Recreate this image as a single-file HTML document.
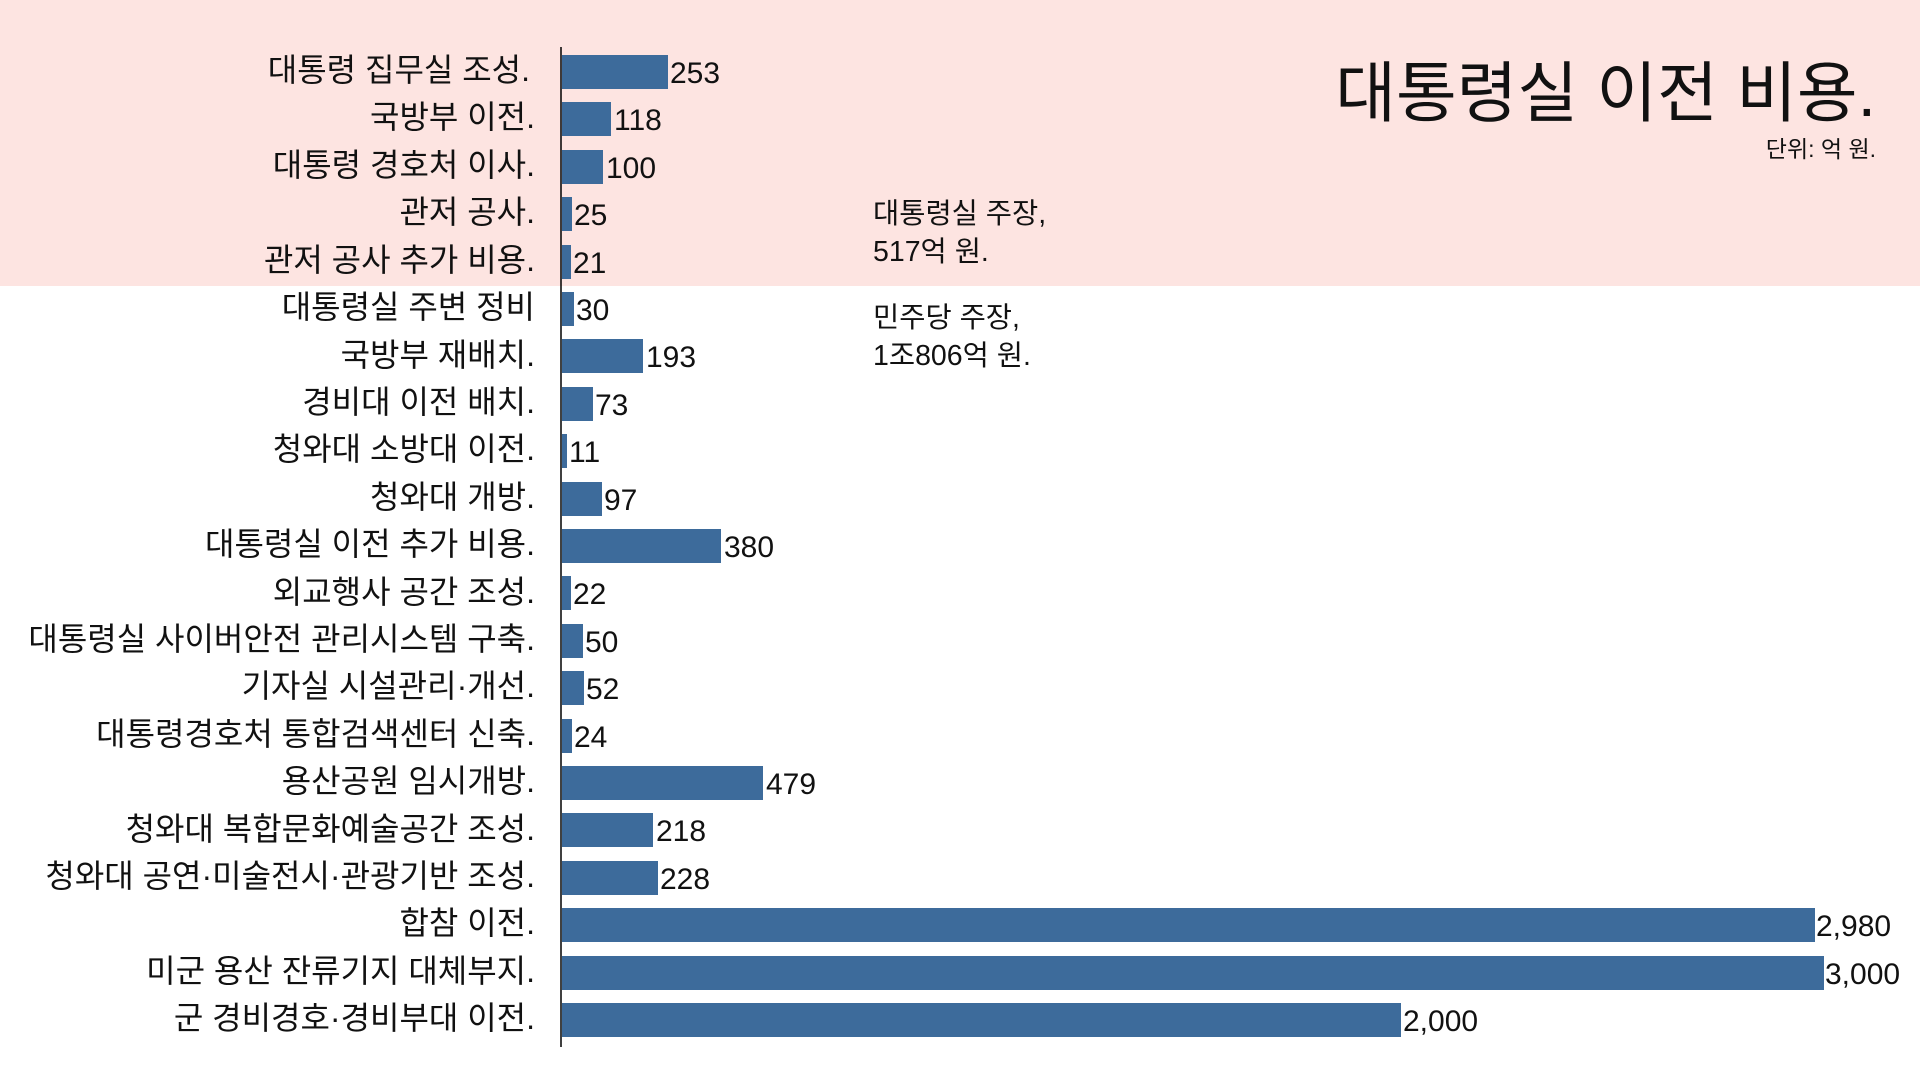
<!DOCTYPE html>
<html><head><meta charset="utf-8"><style>
html,body{margin:0;padding:0;background:#fff;}
svg{display:block}
text{font-family:"Liberation Sans","Noto Sans CJK KR",sans-serif;fill:#111}
</style></head><body>
<svg width="1920" height="1080" viewBox="0 0 1920 1080" xmlns="http://www.w3.org/2000/svg">
<rect x="0" y="0" width="1920" height="286" fill="#fde4e1"/>
<line x1="561" y1="47" x2="561" y2="1047" stroke="#000" stroke-width="1.5"/>
<text x="1876" y="116" font-size="66" text-anchor="end">대통령실 이전 비용.</text>
<text x="1876" y="157" font-size="23" text-anchor="end">단위: 억 원.</text>
<text x="873" y="223" font-size="28.5">대통령실 주장,</text>
<text x="873" y="261" font-size="28.5">517억 원.</text>
<text x="873" y="327" font-size="28.5">민주당 주장,</text>
<text x="873" y="365" font-size="28.5">1조806억 원.</text>
<g font-size="32" text-anchor="end">
<text x="530" y="81">대통령 집무실 조성.</text>
<text x="535" y="128">국방부 이전.</text>
<text x="535" y="176">대통령 경호처 이사.</text>
<text x="535" y="223">관저 공사.</text>
<text x="535" y="271">관저 공사 추가 비용.</text>
<text x="535" y="318">대통령실 주변 정비</text>
<text x="535" y="366">국방부 재배치.</text>
<text x="535" y="413">경비대 이전 배치.</text>
<text x="535" y="460">청와대 소방대 이전.</text>
<text x="535" y="508">청와대 개방.</text>
<text x="535" y="555">대통령실 이전 추가 비용.</text>
<text x="535" y="603">외교행사 공간 조성.</text>
<text x="535" y="650">대통령실 사이버안전 관리시스템 구축.</text>
<text x="535" y="697">기자실 시설관리·개선.</text>
<text x="535" y="745">대통령경호처 통합검색센터 신축.</text>
<text x="535" y="792">용산공원 임시개방.</text>
<text x="535" y="840">청와대 복합문화예술공간 조성.</text>
<text x="535" y="887">청와대 공연·미술전시·관광기반 조성.</text>
<text x="535" y="934">합참 이전.</text>
<text x="535" y="982">미군 용산 잔류기지 대체부지.</text>
<text x="535" y="1029">군 경비경호·경비부대 이전.</text>
</g>
<g fill="#3d6b9b">
<rect x="562" y="55" width="106" height="34"/>
<rect x="562" y="102" width="49" height="34"/>
<rect x="562" y="150" width="41" height="34"/>
<rect x="562" y="197" width="10" height="34"/>
<rect x="562" y="245" width="9" height="34"/>
<rect x="562" y="292" width="12" height="34"/>
<rect x="562" y="339" width="81" height="34"/>
<rect x="562" y="387" width="31" height="34"/>
<rect x="562" y="434" width="5" height="34"/>
<rect x="562" y="482" width="40" height="34"/>
<rect x="562" y="529" width="159" height="34"/>
<rect x="562" y="576" width="9" height="34"/>
<rect x="562" y="624" width="21" height="34"/>
<rect x="562" y="671" width="22" height="34"/>
<rect x="562" y="719" width="10" height="34"/>
<rect x="562" y="766" width="201" height="34"/>
<rect x="562" y="813" width="91" height="34"/>
<rect x="562" y="861" width="96" height="34"/>
<rect x="562" y="908" width="1253" height="34"/>
<rect x="562" y="956" width="1262" height="34"/>
<rect x="562" y="1003" width="839" height="34"/>
</g>
<g font-size="30">
<text x="670" y="83">253</text>
<text x="614" y="130">118</text>
<text x="606" y="178">100</text>
<text x="574" y="225">25</text>
<text x="573" y="273">21</text>
<text x="576" y="320">30</text>
<text x="646" y="367">193</text>
<text x="595" y="415">73</text>
<text x="569" y="462">11</text>
<text x="604" y="510">97</text>
<text x="724" y="557">380</text>
<text x="573" y="604">22</text>
<text x="585" y="652">50</text>
<text x="586" y="699">52</text>
<text x="574" y="747">24</text>
<text x="766" y="794">479</text>
<text x="656" y="841">218</text>
<text x="660" y="889">228</text>
<text x="1816" y="936">2,980</text>
<text x="1825" y="984">3,000</text>
<text x="1403" y="1031">2,000</text>
</g>
</svg>
</body></html>
